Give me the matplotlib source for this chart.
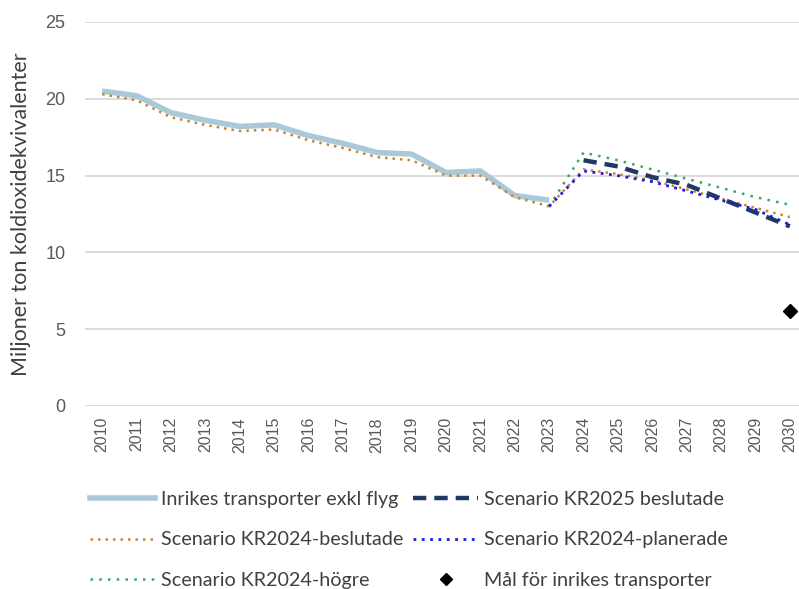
import matplotlib
matplotlib.use("Agg")
import matplotlib.pyplot as plt
from matplotlib import font_manager
from matplotlib.lines import Line2D

years = [str(y) for y in range(2010, 2031)]

inrikes = [20.5, 20.2, 19.1, 18.6, 18.2, 18.3, 17.6, 17.1, 16.5, 16.4, 15.2, 15.3, 13.7, 13.4]
kr2024_beslutade = [20.3, 19.9, 18.8, 18.3, 17.9, 18.0, 17.3, 16.8, 16.2, 16.0, 15.0, 15.0, 13.6, 13.0,
                    15.4, 15.1, 14.7, 14.1, 13.5, 12.9, 12.3]
kr2025_years = years[14:]
kr2025_beslutade = [16.0, 15.6, 14.9, 14.4, 13.5, 12.6, 11.7]
scen_years = years[13:]
kr2024_planerade = [13.0, 15.3, 15.0, 14.6, 14.0, 13.4, 12.8, 11.8]
kr2024_hogre = [13.0, 16.5, 16.0, 15.4, 14.8, 14.2, 13.6, 13.1]
mal_year = ["2030"]
mal_value = [6.2]

labels = ["Inrikes transporter exkl flyg", "Scenario KR2025 beslutade",
          "Scenario KR2024-beslutade", "Scenario KR2024-planerade",
          "Scenario KR2024-högre", "Mål för inrikes transporter"]

avail = {f.name for f in font_manager.fontManager.ttflist}
main_font = "Lato" if "Lato" in avail else "DejaVu Sans"
plt.rcParams['font.family'] = [main_font, 'DejaVu Sans']

fig = plt.figure(figsize=(7.99, 5.89), dpi=100)
x0 = 85 / 799
w = 722 / 799
ax = fig.add_axes([x0, 183 / 589, w, 384 / 589])

idx = {y: i for i, y in enumerate(years)}

c_inr = "#a9c9d8"
c_orange = "#c8862a"
c_navy = "#1f3864"
c_blue = "#1a1aee"
c_green = "#3aa56a"

ax.plot([idx[y] for y in years[:len(inrikes)]], inrikes, color=c_inr, lw=4, solid_capstyle='butt', zorder=2)
ax.plot([idx[y] for y in years[:len(kr2024_beslutade)]], kr2024_beslutade, color=c_orange, lw=1.8,
        ls=(0, (1, 2)), zorder=3)
ax.plot([idx[y] for y in scen_years], kr2024_hogre, color=c_green, lw=1.8, ls=(0, (1, 2.5)), zorder=3)
ax.plot([idx[y] for y in kr2025_years], kr2025_beslutade, color=c_navy, lw=3.2, ls=(0, (3, 1.8)), zorder=4)
ax.plot([idx[y] for y in scen_years], kr2024_planerade, color=c_blue, lw=2.0, ls=(0, (1, 2)), zorder=5)
ax.plot([idx[y] for y in mal_year], mal_value, ls='none', marker='D', color='black', ms=7, zorder=6)

ax.set_xlim(-0.5, len(years) - 0.5)
ax.set_ylim(0, 25)
ax.set_yticks([0, 5, 10, 15, 20, 25])
ax.set_xticks(range(len(years)))
ax.set_xticklabels(years, rotation=90, family='Liberation Sans', fontsize=11.5, color='#595959')
for t in ax.get_yticklabels():
    t.set_family('Liberation Sans')
    t.set_fontsize(13)
    t.set_color('#595959')
ax.tick_params(axis='x', length=0, pad=8)
ax.tick_params(axis='y', length=0, pad=14)
ax.grid(axis='y', color='#d9d9d9', lw=1.3)
ax.set_axisbelow(True)
for s in ax.spines.values():
    s.set_visible(False)
ax.set_ylabel("Miljoner ton koldioxidekvivalenter", fontsize=15.5, color='#404040')
ax.yaxis.set_label_coords(-0.075, 0.5)

handles = [
    Line2D([], [], color=c_inr, lw=4),
    Line2D([], [], color=c_orange, lw=1.8, ls=(0, (1, 2))),
    Line2D([], [], color=c_green, lw=1.8, ls=(0, (1, 2.5))),
    Line2D([], [], color=c_navy, lw=3.2, ls=(0, (3, 1.8))),
    Line2D([], [], color=c_blue, lw=2.0, ls=(0, (1, 2))),
    Line2D([], [], ls='none', marker='D', color='black', ms=6),
]
leg_labels = [labels[0], labels[2], labels[4], labels[1], labels[3], labels[5]]
fig.legend(handles, leg_labels, ncol=2, loc='upper left', bbox_to_anchor=(72 / 799, 1 - 473 / 589),
           frameon=False, fontsize=14.2, handlelength=3.3, columnspacing=0.5, labelspacing=1.2,
           handletextpad=0.3, labelcolor='#404040')

fig.savefig("out.png", dpi=100)
